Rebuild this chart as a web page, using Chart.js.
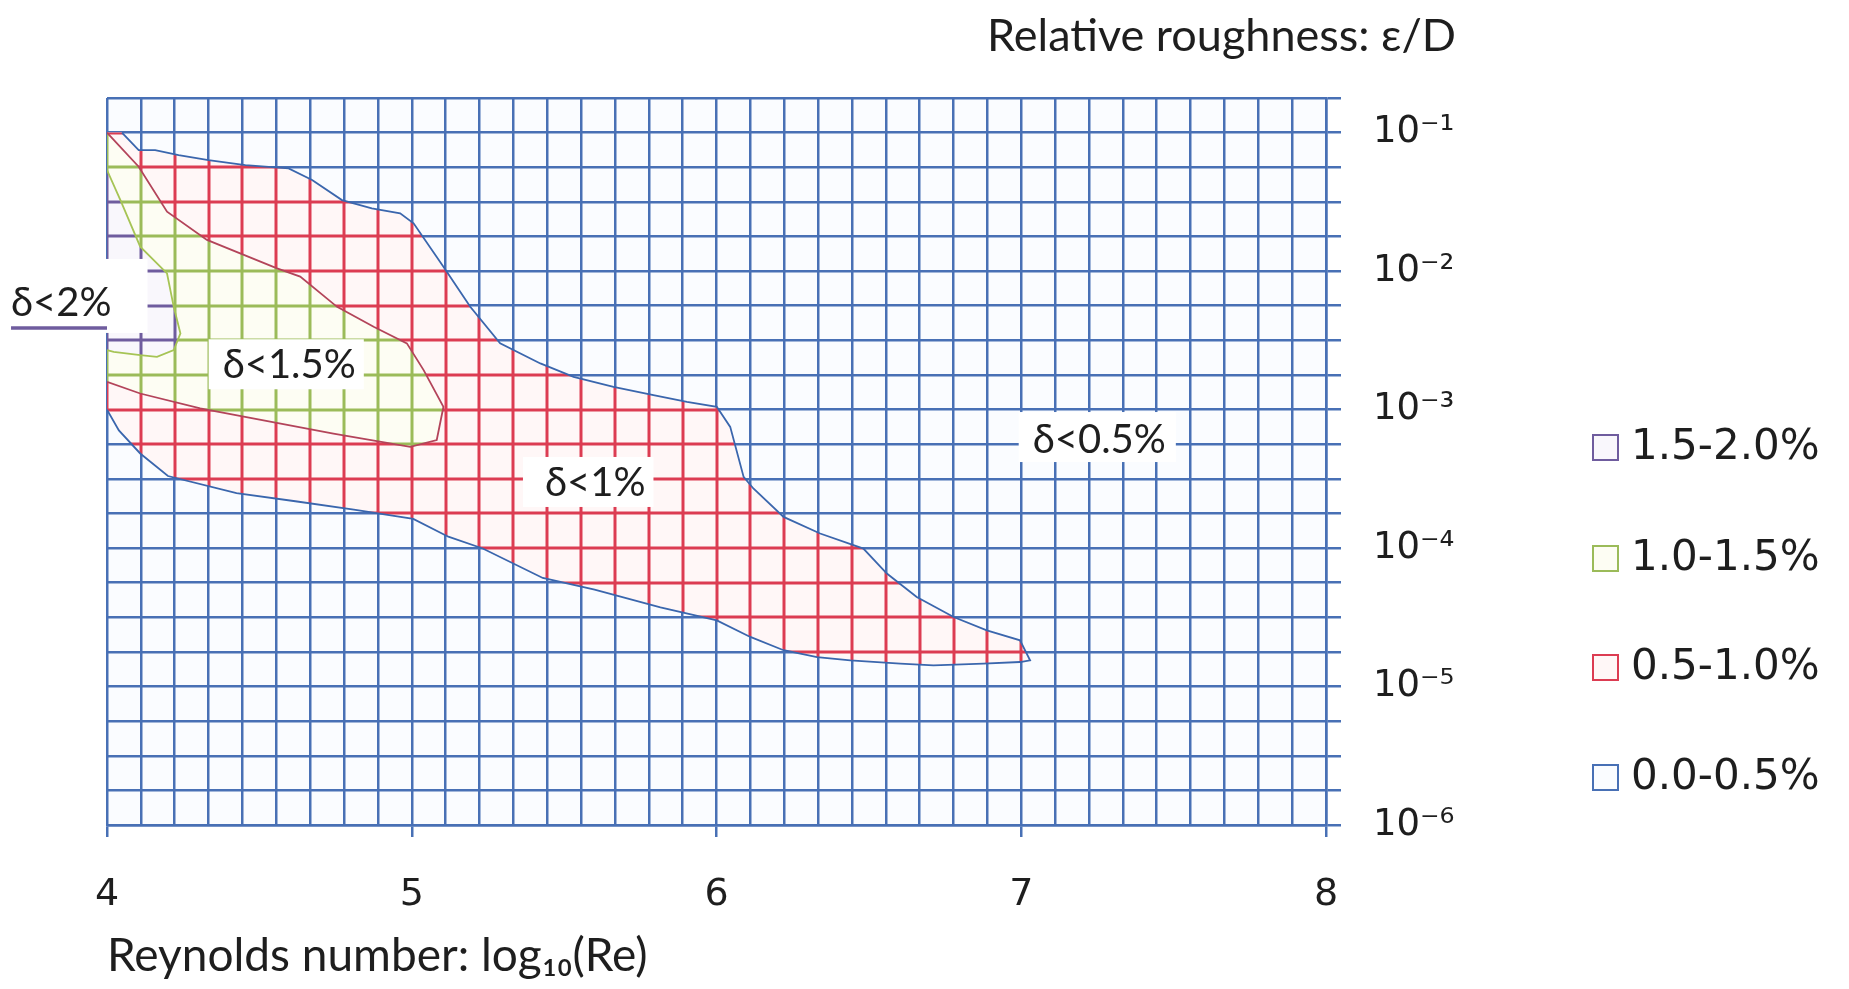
<!DOCTYPE html>
<html>
<head>
<meta charset="utf-8">
<title>Friction factor error bands</title>
<script src="https://cdn.jsdelivr.net/npm/chart.js@4.4.1/dist/chart.umd.min.js"></script>
<style>
  html, body { margin: 0; padding: 0; background: #fff; }
</style>
</head>
<body>
<canvas id="bandChart" width="1849" height="989"></canvas>
<script>
// band edges, x = log10(Re), y = log10(eps/D)

// edge between 0.0-0.5% and 0.5-1.0% (goes round the tip at Re ~ 1e7)
const edge05Re = [4.049, 4.104, 4.158, 4.235, 4.333, 4.454, 4.596, 4.673, 4.771, 4.869, 4.962,
  5.006, 5.104, 5.192, 5.29, 5.422, 5.531, 5.662, 5.793, 5.903, 6.001, 6.045, 6.089, 6.121,
  6.22, 6.34, 6.482, 6.559, 6.657, 6.778, 6.887, 6.996, 7.029,
  6.996, 6.876, 6.712, 6.603, 6.439, 6.33, 6.22, 6.111, 6.001, 5.816, 5.6, 5.43, 5.233,
  5.12, 5.005, 4.81, 4.618, 4.425, 4.2, 4.109, 4.039, 4.0];
const edge05Rough = [-1.0, -1.126, -1.126, -1.162, -1.198, -1.234, -1.258, -1.342, -1.487, -1.547, -1.583,
  -1.655, -1.969, -2.258, -2.522, -2.667, -2.764, -2.836, -2.896, -2.944, -2.98, -3.125, -3.486, -3.57,
  -3.775, -3.895, -4.004, -4.184, -4.353, -4.498, -4.594, -4.666, -4.811,
  -4.823, -4.835, -4.847, -4.835, -4.811, -4.787, -4.738, -4.642, -4.522, -4.429, -4.301, -4.216, -4.003,
  -3.918, -3.79, -3.722, -3.662, -3.603, -3.48, -3.317, -3.151, -3.0];

// edge between 0.5-1.0% and 1.0-1.5%
const edge10Re = [4.0, 4.104, 4.197, 4.328, 4.558, 4.634, 4.755, 4.875, 4.984, 5.039, 5.104,
  5.082, 4.995, 4.743, 4.306, 4.109, 4.0];
const edge10Rough = [-1.0, -1.246, -1.571, -1.775, -1.98, -2.04, -2.258, -2.402, -2.522, -2.715, -2.98,
  -3.22, -3.269, -3.173, -2.992, -2.884, -2.799];

// edge between 1.0-1.5% and 1.5-2.0%
const edge15Re = [4.0, 4.044, 4.109, 4.197, 4.219, 4.241, 4.219, 4.164, 4.109, 4.022, 4.0];
const edge15Rough = [-1.27, -1.487, -1.824, -2.017, -2.258, -2.45, -2.571, -2.619, -2.607, -2.583, -2.571];

const bandLabels = ["1.5-2.0%", "1.0-1.5%", "0.5-1.0%", "0.0-0.5%"];
const reLabels = [4, 5, 6, 7, 8];
const roughLabels = [-1, -2, -3, -4, -5, -6];

const BLUE = "#4870b5";
const RED = "#dc3c52";
const GREEN = "#9bbb59";
const PURPLE = "#6f5c9e";
const bandColors = [PURPLE, GREEN, RED, BLUE];
const bandTints = ["#f9f7fc", "#fdfdf3", "#fff7f7", "#fafcff"];

const SUP = { 1: "\u00b9", 2: "\u00b2", 3: "\u00b3", 4: "\u2074", 5: "\u2075", 6: "\u2076" };

const notes = [
  { text: "\u03b4<2%", re: 3.85, rough: -2.23, pad: [14, 36, 28, 14], underline: PURPLE },
  { text: "\u03b4<1.5%", re: 4.598, rough: -2.68, pad: [14, 8, 10, 8] },
  { text: "\u03b4<1%", re: 5.602, rough: -3.53, pad: [22, 8, 10, 8] },
  { text: "\u03b4<0.5%", re: 7.256, rough: -3.22, pad: [14, 10, 12, 6] }
];

function toPoints(xs, ys) {
  return xs.map((x, i) => ({ x: x, y: ys[i] }));
}

function isWhole(v) {
  return Math.abs(v - Math.round(v)) < 1e-6;
}

function tracePolygon(ctx, chart, xs, ys) {
  const sx = chart.scales.x, sy = chart.scales.y;
  ctx.beginPath();
  xs.forEach((x, i) => {
    const px = sx.getPixelForValue(x);
    const py = sy.getPixelForValue(ys[i]);
    if (i === 0) ctx.moveTo(px, py); else ctx.lineTo(px, py);
  });
  ctx.closePath();
}

function strokeGrid(ctx, chart, color) {
  const a = chart.chartArea;
  const sx = chart.scales.x, sy = chart.scales.y;
  ctx.strokeStyle = color;
  ctx.lineWidth = 3;
  ctx.beginPath();
  sx.ticks.forEach(t => {
    const p = Math.round(sx.getPixelForValue(t.value));
    ctx.moveTo(p, a.top);
    ctx.lineTo(p, a.bottom);
  });
  sy.ticks.forEach(t => {
    const p = Math.round(sy.getPixelForValue(t.value));
    ctx.moveTo(a.left, p);
    ctx.lineTo(a.right, p);
  });
  ctx.stroke();
}

// recolour the grid inside each band
const bandGrid = {
  id: "bandGrid",
  beforeDraw(chart) {
    const ctx = chart.ctx, a = chart.chartArea;
    ctx.save();
    ctx.fillStyle = bandTints[3];
    ctx.fillRect(a.left, a.top, a.right - a.left, a.bottom - a.top);
    ctx.restore();
  },
  beforeDatasetsDraw(chart) {
    const ctx = chart.ctx, a = chart.chartArea;
    const regions = [
      { xs: [4].concat(edge05Re), ys: [-1].concat(edge05Rough), color: RED, tint: bandTints[2] },
      { xs: edge10Re, ys: edge10Rough, color: GREEN, tint: bandTints[1] },
      { xs: edge15Re, ys: edge15Rough, color: PURPLE, tint: bandTints[0] }
    ];
    regions.forEach(r => {
      ctx.save();
      ctx.beginPath();
      ctx.rect(a.left, a.top, a.right - a.left, a.bottom - a.top);
      ctx.clip();
      tracePolygon(ctx, chart, r.xs, r.ys);
      ctx.clip();
      ctx.fillStyle = r.tint;
      ctx.fillRect(a.left, a.top, a.right - a.left, a.bottom - a.top);
      strokeGrid(ctx, chart, r.color);
      ctx.restore();
    });
  }
};

// labels, axis caption and legend
const chartText = {
  id: "chartText",
  afterDraw(chart) {
    const ctx = chart.ctx;
    const sx = chart.scales.x, sy = chart.scales.y;
    ctx.save();
    ctx.textBaseline = "middle";

    ctx.font = "40px Lato, 'DejaVu Sans'";
    notes.forEach(n => {
      const cx = sx.getPixelForValue(n.re);
      const cy = sy.getPixelForValue(n.rough);
      const w = ctx.measureText(n.text).width;
      const h = 32;
      ctx.fillStyle = "#ffffff";
      ctx.fillRect(cx - w / 2 - n.pad[0], cy - h / 2 - n.pad[2],
        w + n.pad[0] + n.pad[1], h + n.pad[2] + n.pad[3]);
      ctx.fillStyle = "#1e1e1e";
      ctx.textAlign = "center";
      ctx.fillText(n.text, cx, cy);
      if (n.underline) {
        ctx.strokeStyle = n.underline;
        ctx.lineWidth = 3.5;
        ctx.beginPath();
        ctx.moveTo(cx - w / 2, cy + 25);
        ctx.lineTo(chart.chartArea.left, cy + 25);
        ctx.stroke();
      }
    });

    ctx.font = "45px Lato, 'DejaVu Sans'";
    ctx.fillStyle = "#1e1e1e";
    ctx.textAlign = "right";
    ctx.fillText("Relative roughness: \u03b5/D", sy.right - 20, 36);

    const lx = 1593;
    const rows = [448, 559, 668, 778];
    ctx.font = "42px 'DejaVu Sans'";
    ctx.textAlign = "left";
    bandLabels.forEach((lab, i) => {
      ctx.fillStyle = bandTints[i];
      ctx.fillRect(lx, rows[i] - 13, 25, 25);
      ctx.strokeStyle = bandColors[i];
      ctx.lineWidth = 2;
      ctx.strokeRect(lx, rows[i] - 13, 25, 25);
      ctx.fillStyle = "#1e1e1e";
      ctx.fillText(lab, lx + 38, rows[i]);
    });
    ctx.restore();
  }
};

const ctx = document.getElementById("bandChart").getContext("2d");

new Chart(ctx, {
  type: "scatter",
  data: {
    datasets: [
      {
        label: "0.5% edge",
        data: toPoints(edge05Re, edge05Rough),
        showLine: true,
        borderColor: "#3a66ad",
        borderWidth: 1.8,
        pointRadius: 0
      },
      {
        label: "1.0% edge",
        data: toPoints(edge10Re, edge10Rough),
        showLine: true,
        borderColor: "#b3445a",
        borderWidth: 1.8,
        pointRadius: 0
      },
      {
        label: "1.5% edge",
        data: toPoints(edge15Re, edge15Rough),
        showLine: true,
        borderColor: "#a6c455",
        borderWidth: 1.8,
        pointRadius: 0
      }
    ]
  },
  options: {
    responsive: false,
    animation: false,
    devicePixelRatio: 1,
    layout: {
      padding: { left: 107, top: 98, right: 373, bottom: 0 }
    },
    plugins: {
      legend: { display: false },
      tooltip: { enabled: false }
    },
    scales: {
      x: {
        type: "linear",
        position: "bottom",
        min: 4,
        max: 8,
        afterBuildTicks: scale => {
          scale.ticks = Array.from({ length: 37 }, (_, i) => ({ value: 4 + i / 9 }));
        },
        afterFit: scale => { scale.height = 164; },
        ticks: {
          autoSkip: false,
          maxRotation: 0,
          padding: 35,
          color: "#1e1e1e",
          font: { family: "'DejaVu Sans'", size: 38 },
          callback: v => (isWhole(v) && reLabels.includes(Math.round(v))) ? String(Math.round(v)) : ""
        },
        grid: {
          color: BLUE,
          lineWidth: 2.5,
          tickLength: 12,
          tickColor: c => (c.tick && isWhole(c.tick.value)) ? BLUE : "rgba(0,0,0,0)"
        },
        border: { display: true, color: BLUE, width: 2.5 },
        title: {
          display: true,
          text: "Reynolds number: log\u2081\u2080(Re)",
          align: "start",
          color: "#1e1e1e",
          font: { family: "Lato, 'DejaVu Sans'", size: 46 },
          padding: { top: 0, bottom: 5 }
        }
      },
      y: {
        type: "linear",
        position: "right",
        min: -6,
        max: -0.75,
        afterBuildTicks: scale => {
          scale.ticks = Array.from({ length: 22 }, (_, i) => ({ value: -0.75 - i * 0.25 }));
        },
        afterFit: scale => { scale.width = 150; },
        ticks: {
          autoSkip: false,
          padding: 32,
          color: "#1e1e1e",
          font: { family: "'DejaVu Sans'", size: 37 },
          callback: v => (isWhole(v) && roughLabels.includes(Math.round(v))) ? "10\u207b" + SUP[-Math.round(v)] : ""
        },
        grid: {
          color: BLUE,
          lineWidth: 2.5,
          tickLength: 15,
          tickColor: BLUE
        },
        border: { display: true, color: BLUE, width: 2.5 }
      }
    }
  },
  plugins: [bandGrid, chartText]
});
</script>
</body>
</html>
